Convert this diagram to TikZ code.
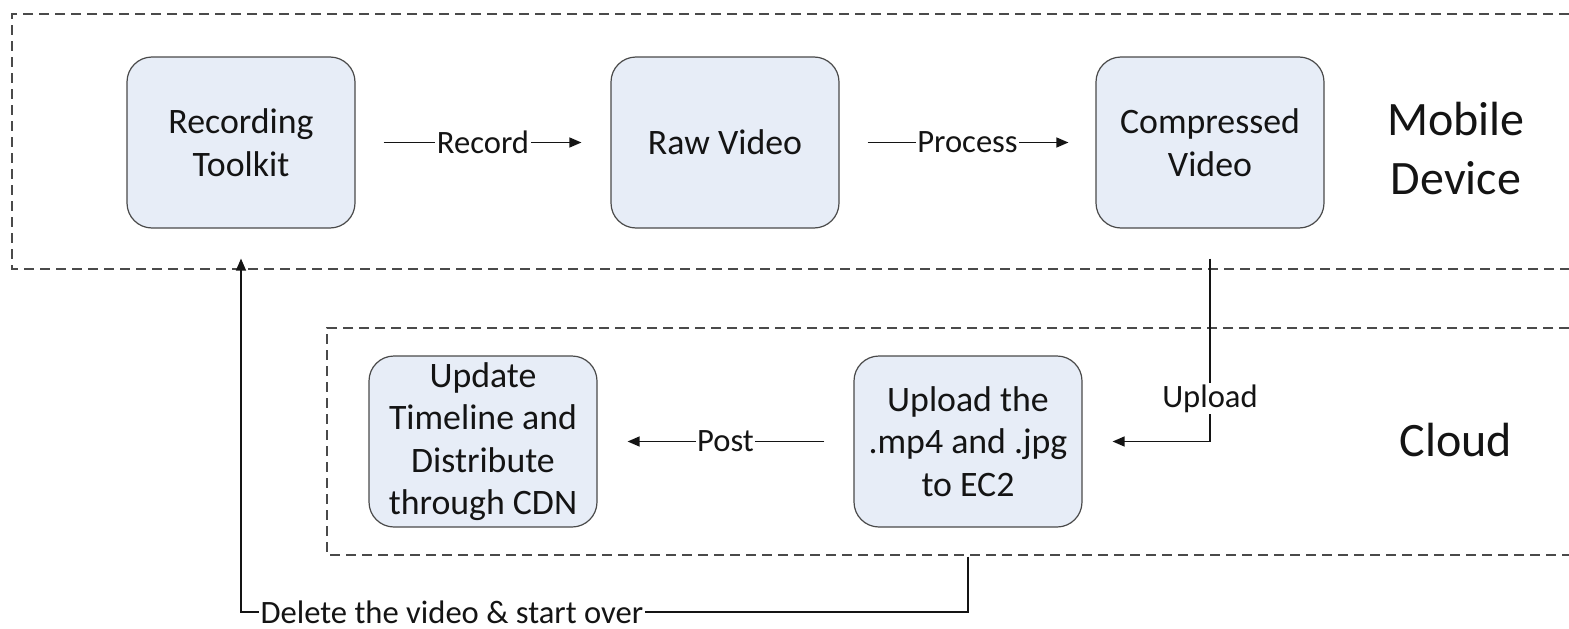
\documentclass[tikz,border=0pt]{standalone}
\usepackage{fontspec}
\setmainfont{Carlito}
\usetikzlibrary{arrows.meta}
\definecolor{boxfill}{HTML}{E7EDF7}
\definecolor{edge}{HTML}{4A4A4A}
\definecolor{ink}{HTML}{141414}
\begin{document}
\begin{tikzpicture}[x=1pt,y=-1pt,
  stage/.style={draw=edge, fill=boxfill, rounded corners=25pt, line width=1.2pt,
    minimum width=228pt, minimum height=171pt, align=center, text=ink,
    font=\fontsize{35.8}{42.5}\selectfont},
  zone/.style={draw=edge, line width=1.2pt, dash pattern=on 10pt off 6pt},
  flow/.style={draw=ink, line width=1.3pt, -{Triangle[length=12pt,width=10pt]}},
  lbl/.style={fill=white, inner sep=1.5pt, text=ink, font=\fontsize{32.6}{38}\selectfont},
  region/.style={align=center, text=ink, font=\fontsize{48}{59}\selectfont}]
\useasboundingbox (0,0) rectangle (1569,629);

% dashed zones, open to the right
\draw[zone] (1569,14) -- (12,14) -- (12,269) -- (1569,269);
\draw[zone] (1569,328) -- (327,328) -- (327,555) -- (1569,555);

% processing stages
\node[stage] (rt) at (241,142.5) {Recording\\Toolkit};
\node[stage] (rv) at (725,142.5) {Raw Video};
\node[stage] (cv) at (1210,142.5) {Compressed\\Video};
\node[stage] (ut) at (483,441.5) {Update\\Timeline and\\Distribute\\through CDN};
\node[stage] (up) at (968,441.5) {Upload the\\.mp4 and .jpg\\to EC2};

% zone titles
\node[region] (md) at (1456,148) {Mobile\\Device};
\node[region] (cl) at (1456,440) {Cloud};

% connectors
\draw[flow, shorten <=28pt, shorten >=29pt] (rt.east) -- node[lbl]{Record} (rv.west);
\draw[flow, shorten <=28pt, shorten >=27pt] (rv.east) -- node[lbl]{Process} (cv.west);
\draw[flow, shorten <=30pt, shorten >=30pt] (cv.south) |- node[lbl, pos=0.4]{Upload} (up.east);
\draw[flow, shorten <=29pt, shorten >=30pt] (up.west) -- node[lbl]{Post} (ut.east);
\coordinate (turn) at (968,612);
\draw[flow, shorten <=29pt, shorten >=30pt] (up.south) -- (turn) -| node[lbl, pos=0.355]{Delete the video \& start over} (rt.south);
\end{tikzpicture}
\end{document}
